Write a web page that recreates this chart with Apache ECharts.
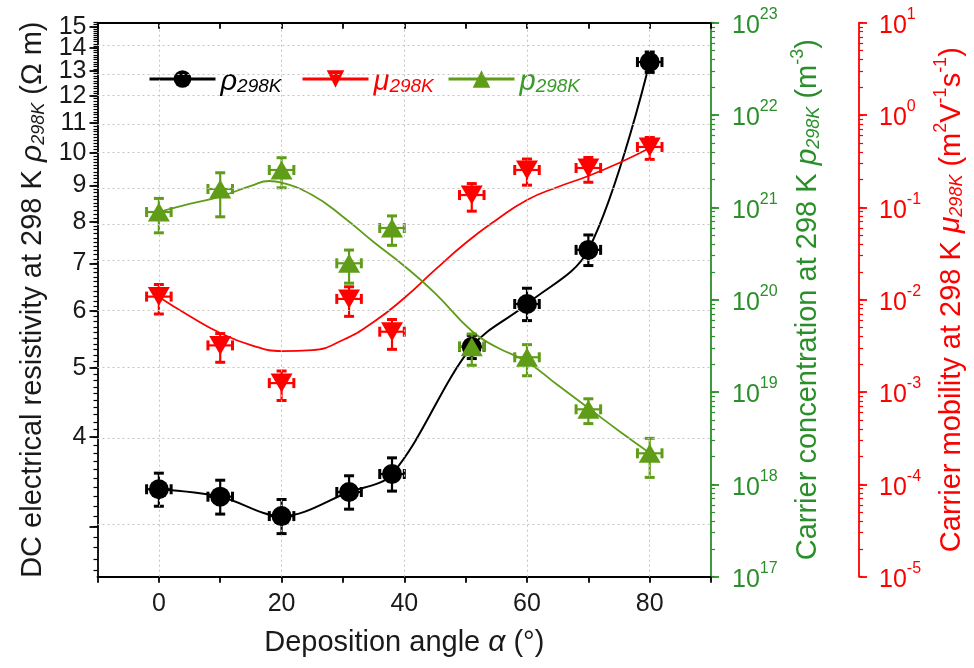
<!DOCTYPE html>
<html><head><meta charset="utf-8">
<script src="https://cdn.jsdelivr.net/npm/echarts@6/dist/echarts.min.js"></script>
<style>html,body{margin:0;padding:0;background:#fff}#c{width:974px;height:668px}</style>
</head><body><div id="c"></div>
<script>
// ---------------- data ----------------
const angles   = [0, 10, 20, 31, 38, 51, 60, 70, 80];
const angleErr = [2, 2, 2, 2, 2, 2, 2, 2, 2];
const rho      = [3.38, 3.30, 3.10, 3.35, 3.55, 5.35, 6.14, 7.31, 13.39];
const rhoErr   = [0.18, 0.18, 0.17, 0.18, 0.19, 0.20, 0.32, 0.36, 0.44];
const mu       = [0.0108, 0.0032, 0.00125, 0.0102, 0.0045, 0.136, 0.254, 0.267, 0.451];
const muErr    = [0.0038, 0.0011, 0.00044, 0.0036, 0.0016, 0.045, 0.08, 0.08, 0.12];
const pc       = [8.9e20, 1.58e21, 2.54e21, 2.48e20, 5.98e20, 3.10e19, 2.38e19, 6.5e18, 2.17e18];
const pcErr    = [3.6e20, 7.9e20, 9.1e20, 9.7e19, 2.1e20, 1.15e19, 8.8e18, 1.95e18, 9.8e17];

const pFitAngles = [0, 5, 10, 15, 18, 20, 25, 30, 35, 40, 45, 51, 55, 60, 65, 70, 75, 80];
const pFit = [8.91e20, 1.09e21, 1.31e21, 1.71e21, 1.93e21, 1.85e21, 1.36e21, 7.93e20, 4.22e20,
              2.32e20, 1.18e20, 4.58e19, 3.07e19, 2.12e19, 1.19e19, 6.72e18, 3.79e18, 2.19e18];
const muFitAngles = [0, 5, 10, 15, 20, 25, 30, 35, 40, 45, 50, 55, 60, 65, 70, 75, 80];
const muFit = [0.0107, 0.00666, 0.00436, 0.00323, 0.00278, 0.00285, 0.00366, 0.00574, 0.01043,
               0.021, 0.0411, 0.073, 0.1202, 0.1662, 0.2187, 0.3025, 0.4396];

const xLabelValues = [0, 20, 40, 60, 80];
const rhoGridValues = [3, 4, 5, 6, 7, 8, 9, 10, 11, 12, 13, 14];
const rhoLabelValues = [4, 5, 6, 7, 8, 9, 10, 11, 12, 13, 14, 15];
const pExponents = [17, 18, 19, 20, 21, 22, 23];
const muExponents = [-5, -4, -3, -2, -1, 0, 1];

// ---------------- styling ----------------
const FONT = 'Liberation Sans, Arial, sans-serif';
const BLACK = '#000000', RED = '#ff0000', GREEN = '#5f9c17', GREEN_AX = '#2a8f2a', TXT = '#1a1a1a';
const L = v => Math.log10(v);
const rhoMin = 2.55, rhoMax = 15.2;

const rhoMinor = []; for (let k = 26; k <= 152; k++) rhoMinor.push(L(k / 10));
function logMinors(e0, e1) { const a = []; for (let e = e0; e < e1; e++) for (let m = 1; m <= 9; m++) a.push(e + L(m)); a.push(e1); return a; }

function errSeries(yIdx, color, xs, ys, yerr, xerr) {
  const data = xs.map((x, i) => [x, L(ys[i]), L(ys[i] + yerr[i]), L(ys[i] - yerr[i]), x - xerr[i], x + xerr[i]]);
  return {
    type: 'custom', yAxisIndex: yIdx, z: 4, silent: true, data,
    encode: { x: [0, 4, 5], y: [1, 2, 3] },
    renderItem(params, api) {
      const x = api.value(0), y = api.value(1);
      const c = api.coord([x, y]);
      const t = api.coord([x, api.value(2)]), b = api.coord([x, api.value(3)]);
      const l = api.coord([api.value(4), y]), r = api.coord([api.value(5), y]);
      const cap = 5;
      const ln = (x1, y1, x2, y2, w) => ({ type: 'line', shape: { x1, y1, x2, y2 }, style: { stroke: color, lineWidth: w || 2.2 } });
      return { type: 'group', children: [
        ln(c[0], t[1], c[0], b[1]),
        ln(c[0] - cap, t[1], c[0] + cap, t[1], 3),
        ln(c[0] - cap, b[1], c[0] + cap, b[1], 3),
        ln(l[0], c[1], r[0], c[1]),
        ln(l[0], c[1] - cap, l[0], c[1] + cap, 3),
        ln(r[0], c[1] - cap, r[0], c[1] + cap, 3)
      ] };
    }
  };
}

const invTri = 'path://M0,0 L20,0 L10,17 Z';

function yBase(extra) {
  return Object.assign({
    type: 'value', splitLine: { show: false },
    axisLabel: { show: false }, axisTick: { show: false }, axisLine: { show: false, onZero: false }
  }, extra);
}

const supRich = (col) => ({
  m: { fontFamily: FONT, fontSize: 25, color: col, lineHeight: 32, verticalAlign: 'bottom' },
  s: { fontFamily: FONT, fontSize: 16, color: col, lineHeight: 16, verticalAlign: 'top' }
});

const titleRich = (col) => ({
  t: { fontFamily: FONT, fontSize: 29, color: col, lineHeight: 34, verticalAlign: 'bottom' },
  i: { fontFamily: FONT, fontSize: 30, fontStyle: 'italic', color: col, lineHeight: 34, verticalAlign: 'bottom' },
  sub: { fontFamily: FONT, fontSize: 18, fontStyle: 'italic', color: col, lineHeight: 18, verticalAlign: 'bottom' },
  sup: { fontFamily: FONT, fontSize: 18, color: col, lineHeight: 18, verticalAlign: 'top' }
});

const rhoLabelStyle = { show: true, fontFamily: FONT, fontSize: 25, lineHeight: 18, color: TXT, margin: 11,
  hideOverlap: false, showMaxLabel: true, showMinLabel: true,
  formatter: v => String(Math.round(Math.pow(10, v))) };
// labels split over two overlaid axes so the library never drops neighbouring ones
const rhoLabelsA = rhoLabelValues.filter((v, i) => i % 2 === 0);
const rhoLabelsB = rhoLabelValues.filter((v, i) => i % 2 === 1);

const option = {
  animation: false,
  backgroundColor: '#ffffff',
  grid: { left: 97.5, right: 244, top: 22.7, bottom: 91.3 },
  xAxis: [
    { type: 'value', min: -10, max: 90, interval: 10, position: 'bottom',
      axisLine: { onZero: false, lineStyle: { color: BLACK, width: 1.8 } },
      axisTick: { inside: false, length: 6, lineStyle: { color: BLACK, width: 1.8 } },
      axisLabel: { fontFamily: FONT, fontSize: 25, color: TXT, margin: 15,
        formatter: v => xLabelValues.indexOf(v) >= 0 ? String(v) : '' },
      splitLine: { show: false },
      name: '{t|Deposition angle }{i|α}{t| (°)}', nameLocation: 'middle', nameGap: 47,
      nameTextStyle: { rich: titleRich(TXT) } },
    { type: 'value', min: -10, max: 90, interval: 10, position: 'top',
      axisLine: { onZero: false, lineStyle: { color: BLACK, width: 1.8 } },
      axisTick: { inside: true, length: 6, lineStyle: { color: BLACK, width: 1.8 } },
      axisLabel: { show: false }, splitLine: { show: false } }
  ],
  yAxis: [
    // 0: resistivity (log10 mapped)
    yBase({ position: 'left', min: L(rhoMin), max: L(rhoMax),
      axisLine: { show: true, onZero: false, lineStyle: { color: BLACK, width: 1.8 } },
      axisTick: { show: true, length: 8, customValues: rhoGridValues.concat([15]).map(L), lineStyle: { color: BLACK, width: 1.8 } },
      axisLabel: Object.assign({ customValues: rhoLabelsA.map(L) }, rhoLabelStyle),
      name: '{t|DC electrical resistivity at 298 K }{i|ρ}{sub|298K}{t| (Ω m)}',
      nameLocation: 'middle', nameRotate: 90, nameGap: 49,
      nameTextStyle: { rich: titleRich(TXT) } }),
    // 1: resistivity minor ticks + remaining labels
    yBase({ position: 'left', min: L(rhoMin), max: L(rhoMax),
      axisTick: { show: true, length: 4, customValues: rhoMinor, lineStyle: { color: BLACK, width: 1.2 } },
      axisLabel: Object.assign({ customValues: rhoLabelsB.map(L) }, rhoLabelStyle) }),
    // 2: carrier concentration
    yBase({ position: 'right', min: 17, max: 23, interval: 1,
      axisLine: { show: true, onZero: false, lineStyle: { color: GREEN_AX, width: 1.8 } },
      axisTick: { show: true, length: 8, lineStyle: { color: GREEN_AX, width: 1.8 } },
      axisLabel: { show: true, margin: 21, showMaxLabel: true, showMinLabel: true,
        formatter: v => '{m|10}{s|' + Math.round(v) + '}', rich: supRich(GREEN_AX) },
      name: '{t|Carrier concentration at 298 K }{i|p}{sub|298K}{t| (m}{sup|-3}{t|)}',
      nameLocation: 'middle', nameRotate: 90, nameGap: 70,
      nameTextStyle: { rich: titleRich(GREEN_AX) } }),
    // 3: concentration minor ticks
    yBase({ position: 'right', min: 17, max: 23,
      axisTick: { show: true, length: 4, customValues: logMinors(17, 23), lineStyle: { color: GREEN_AX, width: 1.2 } } }),
    // 4: mobility
    yBase({ position: 'right', offset: 148, min: -5, max: 1, interval: 1,
      axisLine: { show: true, onZero: false, lineStyle: { color: RED, width: 1.8 } },
      axisTick: { show: true, length: 8, lineStyle: { color: RED, width: 1.8 } },
      axisLabel: { show: true, margin: 20, showMaxLabel: true, showMinLabel: true,
        formatter: v => '{m|10}{s|' + Math.round(v) + '}', rich: supRich(RED) },
      name: '{t|Carrier mobility at 298 K }{i|μ}{sub|298K}{t| (m}{sup|2}{t|V}{sup|-1}{t|s}{sup|-1}{t|)}',
      nameLocation: 'middle', nameRotate: 90, nameGap: 69,
      nameTextStyle: { rich: titleRich(RED) } }),
    // 5: mobility minor ticks
    yBase({ position: 'right', offset: 148, min: -5, max: 1,
      axisTick: { show: true, length: 4, customValues: logMinors(-5, 1), lineStyle: { color: RED, width: 1.2 } } })
  ],
  legend: [
    { data: ['rho'], left: 143, top: 62 },
    { data: ['mu'], left: 296, top: 62 },
    { data: ['p'], left: 442, top: 62 }
  ].map(l => Object.assign({
    itemWidth: 66, itemHeight: 22, itemGap: 10, selectedMode: false,
    lineStyle: { width: 3 },
    formatter: n => n === 'rho' ? '{kb|ρ}{ks|298K}' : n === 'mu' ? '{rb|μ}{rs|298K}' : '{gb|p}{gs|298K}',
    textStyle: { rich: {
      kb: { fontFamily: FONT, fontSize: 29, fontStyle: 'italic', color: BLACK, lineHeight: 34, verticalAlign: 'bottom' },
      ks: { fontFamily: FONT, fontSize: 19, fontStyle: 'italic', color: BLACK, lineHeight: 20, verticalAlign: 'bottom' },
      rb: { fontFamily: FONT, fontSize: 29, fontStyle: 'italic', color: RED, lineHeight: 34, verticalAlign: 'bottom' },
      rs: { fontFamily: FONT, fontSize: 19, fontStyle: 'italic', color: RED, lineHeight: 20, verticalAlign: 'bottom' },
      gb: { fontFamily: FONT, fontSize: 29, fontStyle: 'italic', color: '#3a9a2a', lineHeight: 34, verticalAlign: 'bottom' },
      gs: { fontFamily: FONT, fontSize: 19, fontStyle: 'italic', color: '#3a9a2a', lineHeight: 20, verticalAlign: 'bottom' }
    } }
  }, l)),
  series: [
    // gridlines via the axes' own scales
    { type: 'line', yAxisIndex: 0, data: [], z: 0, silent: true,
      markLine: { silent: true, symbol: 'none', label: { show: false }, animation: false,
        lineStyle: { type: [2, 3], color: '#c4c4c4', width: 1 },
        data: rhoGridValues.map(v => ({ yAxis: L(v) })).concat(xLabelValues.map(v => ({ xAxis: v }))) } },
    // fitted curves (these also carry the legend icons)
    { name: 'rho', type: 'line', yAxisIndex: 0, smooth: 0.35, showSymbol: false, symbol: 'circle',
      lineStyle: { color: BLACK, width: 2 }, itemStyle: { color: BLACK }, z: 2,
      data: angles.map((a, i) => [a, L(rho[i])]) },
    { name: 'mu', type: 'line', yAxisIndex: 4, smooth: 0.5, showSymbol: false, symbol: invTri,
      lineStyle: { color: RED, width: 1.8 }, itemStyle: { color: RED }, z: 2,
      data: muFitAngles.map((a, i) => [a, L(muFit[i])]) },
    { name: 'p', type: 'line', yAxisIndex: 2, smooth: 0.5, showSymbol: false, symbol: 'triangle',
      lineStyle: { color: GREEN, width: 1.8 }, itemStyle: { color: GREEN }, z: 2,
      data: pFitAngles.map((a, i) => [a, L(pFit[i])]) },
    // error bars
    errSeries(0, BLACK, angles, rho, rhoErr, angleErr),
    errSeries(4, RED, angles, mu, muErr, angleErr),
    errSeries(2, GREEN, angles, pc, pcErr, angleErr),
    // markers
    { type: 'scatter', yAxisIndex: 0, symbol: 'circle', symbolSize: 20, z: 5, silent: true,
      itemStyle: { color: BLACK, opacity: 1 }, data: angles.map((a, i) => [a, L(rho[i])]) },
    { type: 'scatter', yAxisIndex: 4, symbol: invTri, symbolSize: [22, 19], z: 5, silent: true,
      itemStyle: { color: RED, opacity: 1 }, data: angles.map((a, i) => [a, L(mu[i])]) },
    { type: 'scatter', yAxisIndex: 2, symbol: 'triangle', symbolSize: [22, 19], z: 5, silent: true,
      itemStyle: { color: GREEN, opacity: 1 }, data: angles.map((a, i) => [a, L(pc[i])]) }
  ]
};

const chart = echarts.init(document.getElementById('c'), null, { renderer: 'canvas' });
chart.setOption(option);
</script>
</body></html>
